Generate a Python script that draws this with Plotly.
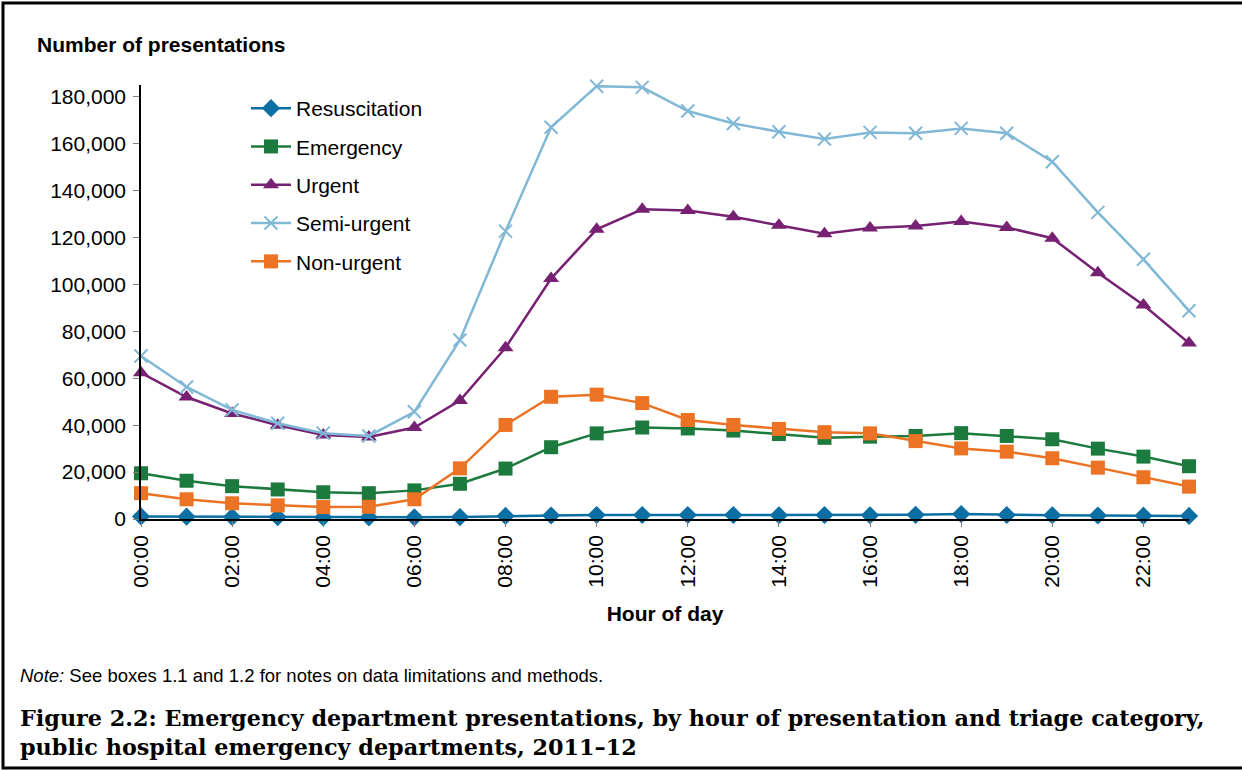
import plotly.graph_objects as go

hours = [f"{h:02d}:00" for h in range(24)]
tick_labels = [f"{h:02d}:00" for h in range(0, 24, 2)]
y_ticks = list(range(0, 180001, 20000))

resuscitation = [1100, 1000, 900, 800, 700, 700, 700, 800, 1300, 1500, 1700, 1700,
                 1700, 1700, 1600, 1700, 1600, 1800, 2100, 1700, 1600, 1500, 1400, 1300]
emergency = [19500, 16300, 14000, 12600, 11400, 11000, 12200, 15000, 21500, 30600, 36500, 39000,
             38600, 37700, 36200, 34600, 35100, 35400, 36600, 35400, 34000, 30000, 26600, 22500]
urgent = [62300, 52000, 45000, 40000, 35800, 35000, 39000, 50500, 73000, 102500, 123500, 132000,
          131500, 128800, 125200, 121600, 124000, 124900, 126800, 124300, 119700, 105000, 91200, 75000]
semi_urgent = [69500, 56300, 46500, 40800, 36600, 35400, 45700, 76300, 122700, 167000, 184500, 184000,
               173900, 168600, 165100, 162000, 164800, 164400, 166500, 164400, 152300, 130700, 110700, 88800]
non_urgent = [11000, 8400, 6700, 5800, 5100, 5200, 8400, 21600, 40100, 52100, 53000, 49400,
              42200, 40100, 38400, 37000, 36500, 33200, 30100, 28700, 25900, 21900, 17800, 13800]

series = [
    ("Resuscitation", resuscitation, "#0B6FA4", "diamond", 14),
    ("Emergency", emergency, "#1D7A3E", "square", 14),
    ("Urgent", urgent, "#762172", "triangle-up", 14),
    ("Semi-urgent", semi_urgent, "#80B8D6", "x-thin", 13),
    ("Non-urgent", non_urgent, "#EB7323", "square", 14),
]

W, H = 1242, 770
L, R, T, B = 141, 1189, 85, 519
PW, PH = R - L, B - T


def px(x):
    return (x - L) / PW


def py(y):
    return (B - y) / PH


FONT = "Liberation Sans, Arial, sans-serif"
SERIF = "DejaVu Serif, Liberation Serif, serif"

fig = go.Figure()
for name, vals, color, sym, size in series:
    marker = dict(symbol=sym, size=size, color=color)
    if sym == "x-thin":
        marker["line"] = dict(color=color, width=2)
    fig.add_trace(go.Scatter(
        x=hours, y=vals, name=name, mode="lines+markers",
        line=dict(color=color, width=2.5),
        marker=marker, cliponaxis=False, legendgroup=name,
    ))

fig.update_layout(
    width=W, height=H,
    margin=dict(l=L, r=W - R, t=T, b=H - B),
    paper_bgcolor="white", plot_bgcolor="white",
    font=dict(family=FONT, size=21, color="black"),
    showlegend=True,
    legend=dict(
        x=px(246), y=py(88), xanchor="left", yanchor="top",
        bgcolor="rgba(0,0,0,0)", font=dict(size=21, family=FONT),
        tracegroupgap=8, itemwidth=40,
    ),
    xaxis=dict(
        type="category", range=[0, 23],
        tickmode="array", tickvals=tick_labels, ticktext=tick_labels,
        tickangle=-90, ticks="outside", ticklen=6, tickcolor="#808080",
        showline=True, linecolor="black", linewidth=1.5,
        showgrid=False, zeroline=False,
        tickfont=dict(size=21, family=FONT),
        title=dict(text="<b>Hour of day</b>", font=dict(size=21, family=FONT), standoff=20),
    ),
    yaxis=dict(
        range=[0, 185000], tickvals=y_ticks,
        ticktext=[f"{v:,}" for v in y_ticks],
        ticks="outside", ticklen=6, tickcolor="#808080",
        showline=True, linecolor="black", linewidth=1.5,
        showgrid=False, zeroline=False,
        tickfont=dict(size=21, family=FONT),
        ticklabelstandoff=3,
    ),
)

fig.add_annotation(
    x=px(35), y=py(44), xref="paper", yref="paper", xanchor="left", yanchor="middle",
    text="<b>Number of presentations</b>", showarrow=False,
    font=dict(size=21, family=FONT),
)
fig.add_annotation(
    x=px(18), y=py(675), xref="paper", yref="paper", xanchor="left", yanchor="middle",
    text="<i>Note:</i> See boxes 1.1 and 1.2 for notes on data limitations and methods.",
    showarrow=False, font=dict(size=18.5, family=FONT),
)
fig.add_annotation(
    x=px(18), y=py(732), xref="paper", yref="paper", xanchor="left", yanchor="middle",
    align="left",
    text="<b>Figure 2.2: Emergency department presentations, by hour of presentation and triage category,</b><br>"
         "<b>public hospital emergency departments, 2011–12</b>",
    showarrow=False, font=dict(size=22.3, family=SERIF),
)

# outer frame
fig.add_shape(type="rect", xref="paper", yref="paper",
              x0=px(3), x1=px(1246), y0=py(768), y1=py(3),
              line=dict(color="black", width=3), fillcolor="rgba(0,0,0,0)", layer="below")

fig.write_html(
    "out.html",
    config={"displayModeBar": False},
    post_script="document.body.style.margin='0';document.documentElement.style.overflow='hidden';",
)
